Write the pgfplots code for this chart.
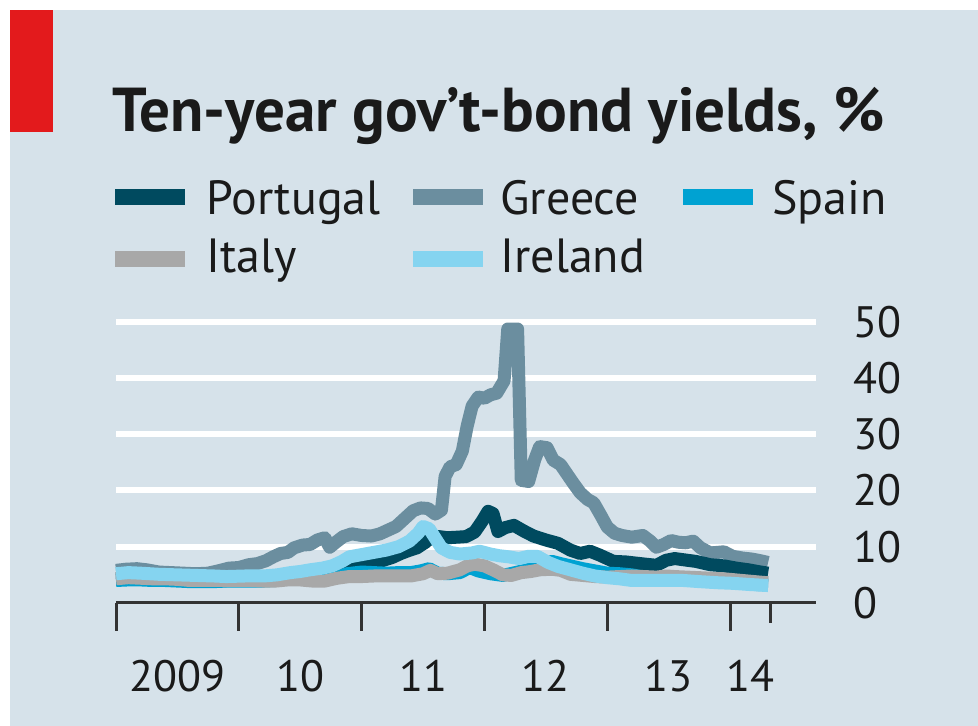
\documentclass[border=0pt]{standalone}
\usepackage{fontspec}
\setmainfont{PT Sans}
\usepackage{pgfplots}
\pgfplotsset{compat=1.18}
\definecolor{bgc}{HTML}{D6E2EA}
\definecolor{redc}{HTML}{E31A1C}
\definecolor{portc}{HTML}{004A5F}
\definecolor{greecec}{HTML}{6B8E9F}
\definecolor{spainc}{HTML}{00A2D2}
\definecolor{italyc}{HTML}{A8A8A8}
\definecolor{irelandc}{HTML}{85D4F0}
\definecolor{axisc}{HTML}{333333}
\definecolor{txtc}{HTML}{1A1A1A}
\newcommand{\legfont}{\fontsize{24}{24}\selectfont}
\begin{document}
\begin{tikzpicture}
\fill[white] (0pt,0pt) rectangle (489pt,363pt);
\fill[bgc] (5pt,0pt) rectangle (489pt,358pt);
\fill[redc] (5pt,297pt) rectangle (26.5pt,358pt);
\node[anchor=base west, inner sep=0, text=txtc, font=\bfseries\fontsize{31}{31}\selectfont] at (56pt,297pt) {\scalebox{0.985}[1]{Ten-year gov’t-bond yields, \%}};
% legend
\draw[portc, line width=8pt] (57.5pt,264.5pt) -- (92.5pt,264.5pt);
\node[anchor=base west, inner sep=0, text=txtc, font=\legfont] at (103pt,255.5pt) {Portugal};
\draw[greecec, line width=8pt] (206.5pt,264.5pt) -- (241.5pt,264.5pt);
\node[anchor=base west, inner sep=0, text=txtc, font=\legfont] at (250pt,255.5pt) {Greece};
\draw[spainc, line width=8pt] (341.5pt,264.5pt) -- (376.5pt,264.5pt);
\node[anchor=base west, inner sep=0, text=txtc, font=\legfont] at (386pt,255.5pt) {Spain};
\draw[italyc, line width=8pt] (57.5pt,233.25pt) -- (92.5pt,233.25pt);
\node[anchor=base west, inner sep=0, text=txtc, font=\legfont] at (103pt,226.5pt) {Italy};
\draw[irelandc, line width=8pt] (206.5pt,233.25pt) -- (241.5pt,233.25pt);
\node[anchor=base west, inner sep=0, text=txtc, font=\legfont] at (250pt,226.5pt) {Ireland};
\begin{axis}[
  at={(58pt,61.5pt)}, anchor=south west,
  scale only axis, width=350pt, height=140.65pt,
  xmin=2009, xmax=2014.70, ymin=0, ymax=50,
  axis x line*=bottom, axis y line*=right,
  x axis line style={draw=axisc, line width=1.5pt, -},
  y axis line style={draw=none},
  xtick={2009,2010,2011,2012,2013,2014}, xticklabels={},
  minor xtick={2014.33},
  tick align=outside, major tick length=14pt, minor tick length=10pt,
  xtick style={draw=axisc, line width=1.5pt},
  extra x ticks={2009.5,2010.5,2011.5,2012.5,2013.5,2014.17},
  extra x tick labels={2009,10,11,12,13,14},
  extra x tick style={major tick length=0pt, tick style={draw=none},
     xticklabel style={anchor=base, yshift=-44.5pt}},
  ytick={10,20,30,40,50},
  ymajorgrids, y grid style={white, line width=3pt},
  extra y ticks={0}, extra y tick style={ymajorgrids=false},
  ytick style={draw=none},
  /pgf/number format/assume math mode=true,
  tick label style={font=\fontsize{22}{22}\selectfont, text=txtc},
  yticklabel style={anchor=west, inner sep=0pt, xshift=4.5pt},
  clip=false,
  every axis plot/.append style={line width=6.5pt, line join=round},
]
% Greece
\addplot[greecec] coordinates {
(2009.00,5.8) (2009.08,6.0) (2009.17,6.1) (2009.25,5.9) (2009.35,5.5) (2009.45,5.4)
(2009.55,5.3) (2009.65,5.2) (2009.75,5.3) (2009.85,5.8) (2009.92,6.2) (2010.00,6.3)
(2010.08,6.8) (2010.15,7.0) (2010.22,7.5) (2010.28,8.2) (2010.34,8.8) (2010.40,9.0)
(2010.45,9.8) (2010.52,10.3) (2010.58,10.4) (2010.64,11.2) (2010.70,11.6) (2010.74,9.9)
(2010.79,10.8) (2010.85,11.8) (2010.92,12.3) (2011.00,12.0) (2011.08,11.9) (2011.15,12.3)
(2011.22,13.0) (2011.28,13.6) (2011.35,15.0) (2011.42,16.4) (2011.48,16.9) (2011.54,16.8)
(2011.60,15.8) (2011.65,16.5) (2011.68,22.5) (2011.72,24.2) (2011.77,24.6) (2011.82,27.0)
(2011.86,31.5) (2011.90,35.0) (2011.95,36.6) (2012.00,36.4) (2012.05,37.0) (2012.10,37.3)
(2012.16,39.5) (2012.19,48.7) (2012.27,48.7) (2012.30,21.8) (2012.36,21.6) (2012.41,25.5)
(2012.45,27.8) (2012.51,27.6) (2012.56,25.4) (2012.62,24.6) (2012.67,23.0) (2012.72,21.4)
(2012.78,19.6) (2012.84,18.4) (2012.89,17.8) (2012.95,15.5) (2013.00,13.5) (2013.06,12.4)
(2013.12,12.0) (2013.20,11.7) (2013.29,12.0) (2013.35,11.0) (2013.40,9.9) (2013.46,10.4)
(2013.52,11.1) (2013.58,10.8) (2013.64,10.7) (2013.70,11.0) (2013.76,9.8) (2013.84,8.9)
(2013.90,9.0) (2013.95,9.1) (2014.02,8.3) (2014.10,8.0) (2014.18,7.8) (2014.25,7.5) (2014.31,7.2)
};
% Portugal
\addplot[portc] coordinates {
(2009.00,4.3) (2009.10,4.4) (2009.20,4.4) (2009.30,4.3) (2009.40,4.2) (2009.50,4.1)
(2009.60,4.0) (2009.70,3.9) (2009.80,3.9) (2009.90,4.0) (2010.00,4.1) (2010.10,4.3)
(2010.20,4.4) (2010.30,4.7) (2010.35,5.0) (2010.45,5.2) (2010.55,5.4) (2010.62,5.5)
(2010.70,5.9) (2010.78,6.3) (2010.85,6.7) (2010.95,6.8) (2011.05,7.0) (2011.15,7.4)
(2011.25,8.1) (2011.32,8.8) (2011.38,9.3) (2011.45,9.8) (2011.52,10.8) (2011.56,11.6)
(2011.63,11.8) (2011.70,11.6) (2011.78,11.7) (2011.85,11.8) (2011.92,12.6) (2011.98,14.5)
(2012.03,16.3) (2012.07,15.9) (2012.11,12.7) (2012.17,13.4) (2012.24,13.8) (2012.32,12.8)
(2012.40,11.9) (2012.50,11.2) (2012.60,10.6) (2012.70,9.4) (2012.78,8.8) (2012.86,9.2)
(2012.94,8.5) (2013.05,7.4) (2013.15,7.3) (2013.27,7.0) (2013.40,6.7) (2013.48,7.6)
(2013.55,7.9) (2013.65,7.6) (2013.72,7.4) (2013.84,6.8) (2013.95,6.6) (2014.05,6.2)
(2014.15,5.9) (2014.25,5.5) (2014.31,5.3)
};
% Spain
\addplot[spainc] coordinates {
(2009.00,4.0) (2009.10,4.1) (2009.20,4.1) (2009.30,4.0) (2009.40,4.0) (2009.50,3.9)
(2009.60,3.8) (2009.70,3.8) (2009.80,3.8) (2009.90,3.9) (2010.00,3.9) (2010.10,3.9)
(2010.20,3.9) (2010.30,4.0) (2010.40,4.3) (2010.50,4.6) (2010.60,4.3) (2010.70,4.2)
(2010.80,4.5) (2010.88,5.2) (2011.00,5.5) (2011.10,5.4) (2011.20,5.3) (2011.30,5.4)
(2011.40,5.4) (2011.48,5.7) (2011.55,6.1) (2011.62,5.3) (2011.70,5.2) (2011.80,5.4)
(2011.88,6.3) (2011.95,5.7) (2012.05,5.2) (2012.15,4.9) (2012.25,5.4) (2012.35,5.9)
(2012.45,6.6) (2012.55,7.4) (2012.62,7.0) (2012.70,6.6) (2012.80,6.1) (2012.90,5.7)
(2013.00,5.3) (2013.10,5.2) (2013.20,5.0) (2013.30,4.6) (2013.40,4.4) (2013.50,4.6)
(2013.60,4.5) (2013.70,4.4) (2013.80,4.2) (2013.90,4.1) (2014.00,3.8) (2014.10,3.6)
(2014.20,3.3) (2014.31,3.2)
};
% Italy
\addplot[italyc] coordinates {
(2009.00,4.3) (2009.10,4.5) (2009.20,4.4) (2009.30,4.3) (2009.40,4.3) (2009.50,4.2)
(2009.60,4.0) (2009.70,4.0) (2009.80,4.0) (2009.90,4.0) (2010.00,4.0) (2010.10,4.0)
(2010.20,3.9) (2010.30,3.9) (2010.40,4.1) (2010.50,4.1) (2010.60,3.9) (2010.70,3.9)
(2010.80,4.4) (2010.90,4.7) (2011.00,4.7) (2011.10,4.8) (2011.20,4.8) (2011.30,4.8)
(2011.40,4.8) (2011.50,5.2) (2011.56,5.8) (2011.62,5.2) (2011.70,5.3) (2011.80,5.9)
(2011.86,6.6) (2011.92,6.9) (2012.00,6.6) (2012.08,5.8) (2012.15,5.0) (2012.22,4.9)
(2012.30,5.4) (2012.38,5.6) (2012.45,5.9) (2012.55,6.0) (2012.62,5.8) (2012.70,5.1)
(2012.80,4.9) (2012.90,4.7) (2013.00,4.6) (2013.10,4.7) (2013.20,4.8) (2013.30,4.7)
(2013.40,4.6) (2013.48,4.8) (2013.55,4.7) (2013.65,4.6) (2013.75,4.5) (2013.85,4.4)
(2013.95,4.3) (2014.05,4.1) (2014.15,3.9) (2014.25,3.7) (2014.31,3.6)
};
% Ireland
\addplot[irelandc] coordinates {
(2009.00,5.2) (2009.10,5.4) (2009.20,5.3) (2009.35,5.1) (2009.50,5.0) (2009.65,4.9)
(2009.80,4.8) (2009.90,4.7) (2010.05,4.8) (2010.20,4.8) (2010.31,5.0) (2010.42,5.4)
(2010.50,5.6) (2010.58,5.9) (2010.68,6.2) (2010.76,6.6) (2010.84,7.4) (2010.90,8.2)
(2011.00,8.6) (2011.10,9.0) (2011.20,9.4) (2011.30,10.0) (2011.39,11.0) (2011.46,12.4)
(2011.50,13.6) (2011.55,13.2) (2011.60,11.5) (2011.65,9.8) (2011.72,9.0) (2011.80,8.7)
(2011.90,8.9) (2011.96,9.2) (2012.05,8.7) (2012.12,8.4) (2012.20,8.2) (2012.28,7.9)
(2012.36,8.3) (2012.43,8.3) (2012.52,7.2) (2012.60,6.5) (2012.70,5.9) (2012.80,5.3)
(2012.90,4.8) (2013.00,4.5) (2013.10,4.3) (2013.20,4.0) (2013.35,4.0) (2013.50,4.0)
(2013.62,4.0) (2013.75,3.8) (2013.90,3.6) (2014.02,3.5) (2014.15,3.3) (2014.31,3.1)
};
\end{axis}
\pgfresetboundingbox
\useasboundingbox (0pt,0pt) rectangle (489pt,363pt);
\end{tikzpicture}
\end{document}
